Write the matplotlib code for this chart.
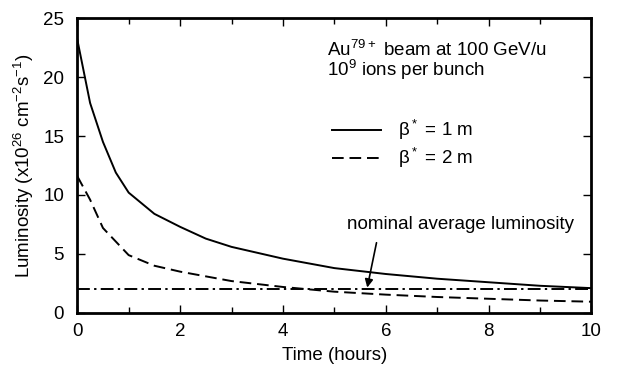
import numpy as np
import matplotlib.pyplot as plt

plt.rcParams['font.family'] = ['Liberation Sans', 'DejaVu Sans']
plt.rcParams['mathtext.default'] = 'regular'
plt.rcParams['font.size'] = 13.5

# data
t1 = [0, 0.25, 0.5, 0.75, 1, 1.5, 2, 2.5, 3, 4, 5, 6, 7, 8, 9, 10]
lum1 = [23.2, 17.8, 14.5, 11.9, 10.2, 8.4, 7.3, 6.3, 5.6, 4.6, 3.8, 3.3, 2.9, 2.6, 2.3, 2.1]
t2 = [0, 0.25, 0.5, 1, 1.5, 2, 2.5, 3, 4, 5, 6, 7, 8, 9, 10]
lum2 = [11.6, 9.6, 7.2, 4.9, 4.0, 3.5, 3.1, 2.7, 2.2, 1.8, 1.55, 1.35, 1.2, 1.05, 0.95]
nominal = 2.0

fig = plt.figure(figsize=(6.18, 3.69), dpi=100)
ax = fig.add_axes([0.125, 0.152, 0.832, 0.799])

ax.plot(t1, lum1, color='black', lw=1.4, label=r'$\beta^*$ = 1 m')
ax.plot(t2, lum2, color='black', lw=1.4, dashes=(6, 3), label=r'$\beta^*$ = 2 m')
ax.axhline(nominal, color='black', lw=1.4, dashes=(6.6, 2.2, 1.2, 2.2))

ax.set_xlim(0, 10)
ax.set_ylim(0, 25)
ax.set_xticks([0, 2, 4, 6, 8, 10])
ax.set_xticks(np.arange(0, 11, 1), minor=True)
ax.set_yticks([0, 5, 10, 15, 20, 25])
ax.tick_params(which='both', direction='in', top=True, right=True, width=1)
ax.tick_params(axis='x', which='major', pad=7)
ax.tick_params(axis='y', which='major', pad=9.5)
ax.tick_params(which='major', length=6)
ax.tick_params(which='minor', length=4)
for s in ax.spines.values():
    s.set_linewidth(2)

ax.set_xlabel('Time (hours)', labelpad=5)
ax.set_ylabel(r'Luminosity (x10$^{26}$ cm$^{-2}$s$^{-1}$)', labelpad=5)

ax.text(4.85, 22.3, r'Au$^{79+}$ beam at 100 GeV/u', va='center')
ax.text(4.85, 20.6, r'10$^9$ ions per bunch', va='center')
ax.legend(loc='upper left', bbox_to_anchor=(0.496, 0.66), frameon=False,
          handlelength=2.6, handletextpad=0.9, labelspacing=0.2,
          borderaxespad=0, borderpad=0)

ax.text(7.45, 7.5, 'nominal average luminosity', ha='center', va='center')
ax.annotate('', xy=(5.64, 2.15), xytext=(5.82, 5.95),
            arrowprops=dict(arrowstyle='-|>', color='black', lw=1.2,
                            shrinkA=0, shrinkB=0, mutation_scale=12))

fig.savefig('out.png', dpi=100)
